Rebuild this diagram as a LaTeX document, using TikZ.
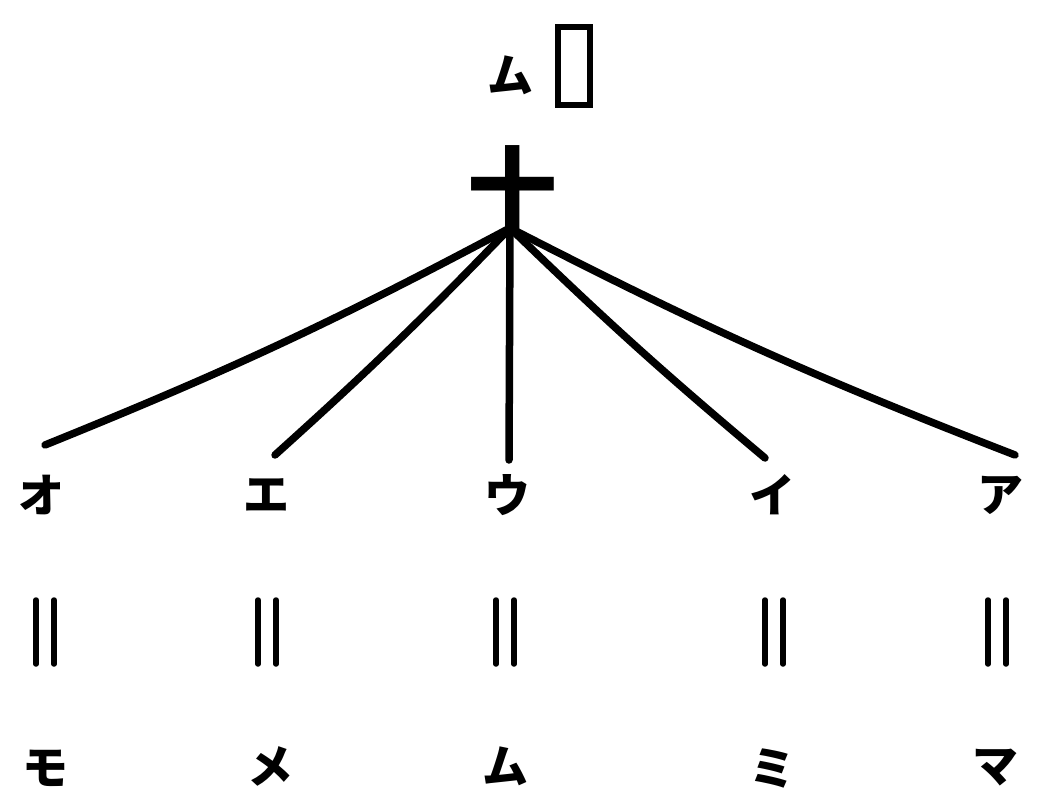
\documentclass[tikz,border=0pt]{standalone}
\usepackage{fontspec}
\newfontfamily\cjk{Noto Sans CJK JP}
\begin{document}
\begin{tikzpicture}[x=1pt,y=-1pt,
  kana/.style={inner sep=0pt,font=\cjk\bfseries\fontsize{46}{46}\selectfont},
  fan/.style={line width=7.5pt,line cap=round},
  dbl/.style={line width=5.5pt,line cap=round},
  box/.style={draw,line width=5.5pt,minimum width=32pt,minimum height=78pt,inner sep=0pt}]
\useasboundingbox (0,0) rectangle (1052,789);
\node[kana] (mu0) at (510,75) {ム};
\node[box] (bx) at (574,66) {};
\node[kana,font=\cjk\bfseries\fontsize{90}{90}\selectfont] (ju) at (512,188) {十};
\coordinate (hub) at (510,228);
\node[kana] (o) at (42,495) {オ};
\node[kana] (e) at (266,495) {エ};
\node[kana] (u) at (507,495) {ウ};
\node[kana] (i) at (772,495) {イ};
\node[kana] (a) at (1000,495) {ア};
\coordinate (eo) at (45,445);
\coordinate (ee) at (275,455);
\coordinate (eu) at (509,460);
\coordinate (ei) at (765,458);
\coordinate (ea) at (1015,455);
\draw[fan] (hub) to[bend left=3] (eo);
\draw[fan] (hub) to[bend left=2] (ee);
\draw[fan] (hub) -- (eu);
\draw[fan] (hub) to[bend right=2] (ei);
\draw[fan] (hub) to[bend right=3] (ea);
\foreach \n/\x in {o/45,e/267,u/505,i/774,a/997}{
  \coordinate (t\n) at (\x,600);
  \draw[dbl] ([xshift=-9]t\n) -- ++(0,64);
  \draw[dbl] ([xshift=9]t\n) -- ++(0,64);
}
\node[kana] (mo) at (45,768) {モ};
\node[kana] (me) at (270,766) {メ};
\node[kana] (mu) at (505,766) {ム};
\node[kana] (mi) at (772,768) {ミ};
\node[kana] (ma) at (995,768) {マ};
\end{tikzpicture}
\end{document}
